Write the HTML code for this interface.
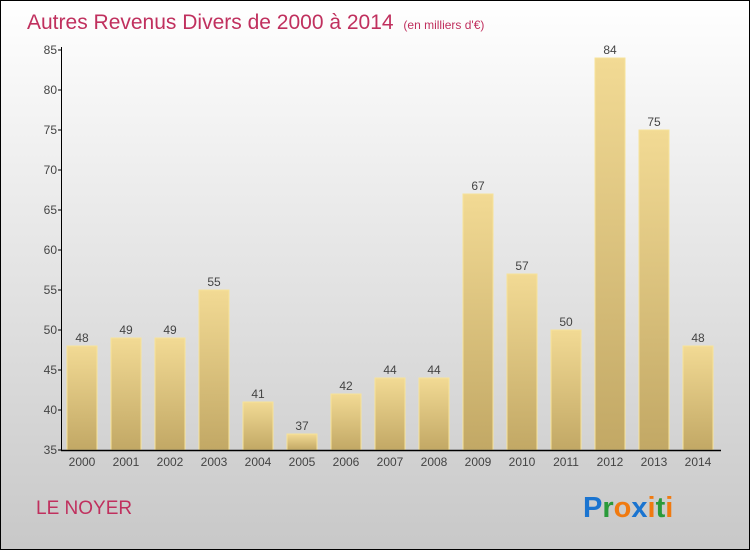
<!DOCTYPE html>
<html><head><meta charset="utf-8"><style>
body{margin:0;}
svg{display:block;font-family:"Liberation Sans",sans-serif;}
</style></head><body>
<svg id="chart" width="750" height="550" xmlns="http://www.w3.org/2000/svg">
<defs>
<linearGradient id="bg" x1="0" y1="0" x2="0" y2="1"><stop offset="0" stop-color="#ffffff"/><stop offset="1" stop-color="#c8c8c8"/></linearGradient>
<linearGradient id="bar" x1="0" y1="0" x2="0" y2="1"><stop offset="0" stop-color="#f2da94"/><stop offset="1" stop-color="#c2a865"/></linearGradient>
</defs>
<rect x="0.5" y="0.5" width="749" height="549" fill="url(#bg)" stroke="#000"/>
<text x="27" y="29" font-size="21" fill="#c0305e">Autres Revenus Divers de 2000 à 2014 <tspan font-size="12" dx="4">(en milliers d'€)</tspan></text>
<g id="bars"></g>
<g id="axes"></g>
<text x="36" y="514" font-size="19" fill="#c0305e">LE NOYER</text>
<text x="583" y="517" font-size="29" font-weight="bold"><tspan fill="#1a74d0">P</tspan><tspan fill="#2a9a3a">r</tspan><tspan fill="#f07a10">o</tspan><tspan fill="#1a74d0">x</tspan><tspan fill="#f07a10">i</tspan><tspan fill="#2a9a3a">t</tspan><tspan fill="#f07a10">i</tspan></text>
</svg>
<script>
const years=["2000","2001","2002","2003","2004","2005","2006","2007","2008","2009","2010","2011","2012","2013","2014"];
const values=[48,49,49,55,41,37,42,44,44,67,57,50,84,75,48];
const yTicks=[35,40,45,50,55,60,65,70,75,80,85];
const NS="http://www.w3.org/2000/svg";
const yMin=35,yMax=85,y0=450,y1=50;
function yS(v){return y0-(v-yMin)/(yMax-yMin)*(y0-y1);}
function xS(i){return 82+i*44;}
const bars=document.getElementById('bars'),axes=document.getElementById('axes');
function mk(t,a,p){const e=document.createElementNS(NS,t);for(const k in a)e.setAttribute(k,a[k]);p.appendChild(e);return e;}
values.forEach((v,i)=>{
 const r=mk('rect',{x:xS(i)-15,y:yS(v),width:30,height:y0-yS(v),fill:'url(#bar)',stroke:'#f7e39a','stroke-width':1},bars);
 
 
 const t=mk('text',{x:xS(i),y:yS(v)-4,'font-size':12,'text-anchor':'middle',fill:'#444'},bars);t.textContent=v;
 
 
 const xl=mk('text',{x:xS(i),y:466,'font-size':12,'text-anchor':'middle',fill:'#444'},axes);xl.textContent=years[i];
 
 
});
const ya=mk('line',{x1:61.5,y1:y1-3,x2:61.5,y2:y0,stroke:'#000'},axes);


const xa=mk('line',{x1:61,y1:450.5,x2:721,y2:450.5,stroke:'#000','stroke-width':1.5},axes);


yTicks.forEach(v=>{
 mk('line',{x1:58,y1:yS(v),x2:62,y2:yS(v),stroke:'#000'},axes);
 const t=mk('text',{x:57,y:yS(v)+4,'font-size':12,'text-anchor':'end',fill:'#444'},axes);t.textContent=v;
 
 
});
</script>
</body></html>
